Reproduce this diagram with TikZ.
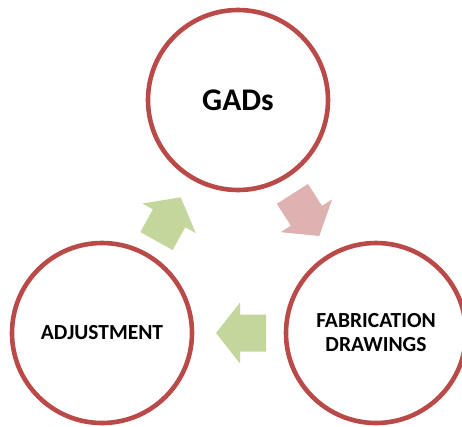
\documentclass[tikz,border=0pt]{standalone}
\usepackage{fontspec}
\setmainfont{Carlito}
\usetikzlibrary{positioning}

\definecolor{ringred}{HTML}{B94A48}
\definecolor{leafgreen}{HTML}{C3D69B}
\definecolor{rosepink}{HTML}{DDB2B1}

% block arrow: tip point, direction angle, fill colour
\newcommand{\blockarrow}[3]{%
  \fill[#3,shift={#1},rotate=#2] (0,0) -- (-24,30.5) -- (-24,18.5) -- (-50,18.5)
    -- (-50,-18.5) -- (-24,-18.5) -- (-24,-30.5) -- cycle;}

\begin{document}
\begin{tikzpicture}[
            x=1pt,y=-1pt,
            stage/.style={circle,draw=ringred,line width=4.6pt,minimum size=180pt,inner sep=0pt,
                          align=center,font=\fontsize{21.5}{24}\selectfont\bfseries},
            title/.style={stage,font=\fontsize{31.5}{36}\selectfont\bfseries}
          ]
          \useasboundingbox (0,0) rectangle (462,426);

          %cycle stages
          \node[title] (gads) at (238,100) {GADs};
          \node[stage] (fab) at (376,333) {FABRICATION\\DRAWINGS};
          \node[stage] (adj) at (102,333) {ADJUSTMENT};

          %arrows between stages
          \blockarrow{(319.3,236)}{-57.5}{rosepink}
          \blockarrow{(216,333)}{180}{leafgreen}
          \blockarrow{(180.7,197.3)}{61}{leafgreen}
      \end{tikzpicture}
\end{document}
